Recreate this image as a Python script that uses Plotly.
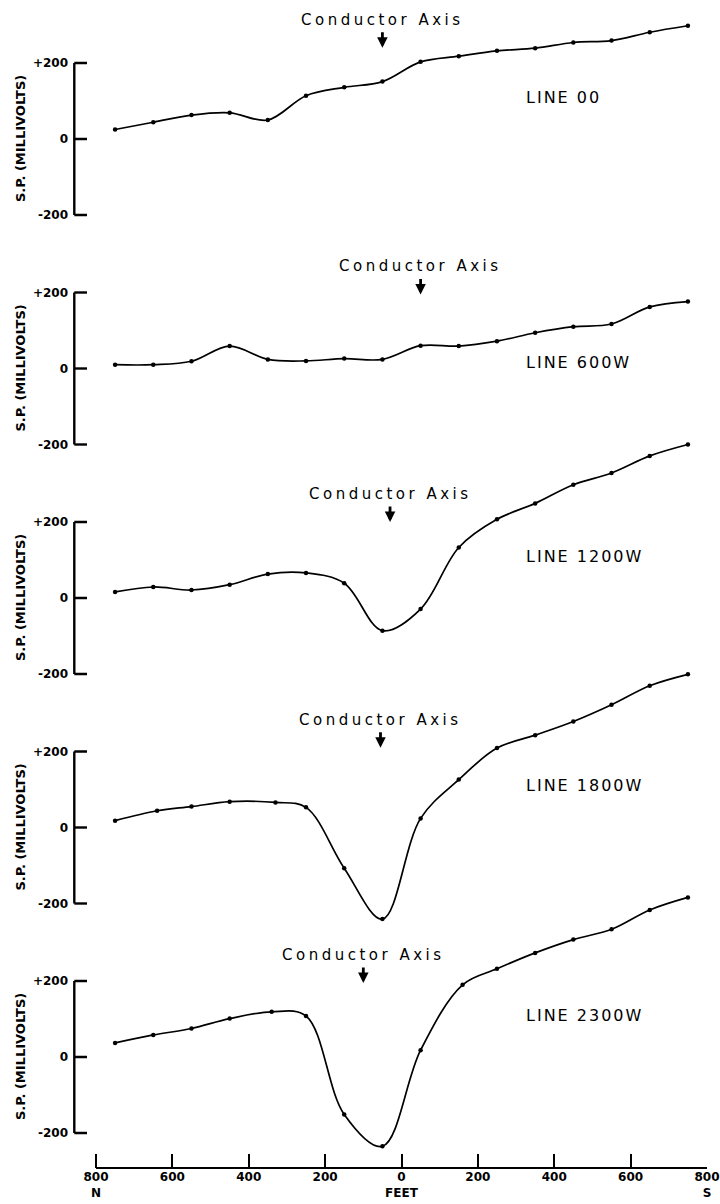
import plotly.graph_objects as go

# ---------------------------------------------------------------------------
# Self-potential survey profiles, five traverse lines crossing the conductor.
# Station positions in feet: negative = north of the baseline, positive = south.
# ---------------------------------------------------------------------------
stations_ft = [-750, -650, -550, -450, -350, -250, -150, -50,
               50, 150, 250, 350, 450, 550, 650, 750]
stations_1800w_ft = [-750, -640, -550, -450, -330, -250, -150, -50,
                     50, 150, 250, 350, 450, 550, 650, 750]
stations_2300w_ft = [-750, -650, -550, -450, -340, -250, -150, -50,
                     50, 160, 250, 350, 450, 550, 650, 750]

# S.P. readings, millivolts
sp_line_00 = [25, 44, 63, 69, 50, 114, 136, 151, 203, 218, 232, 239, 254, 259, 281, 298]
sp_line_600w = [10, 10, 19, 59, 24, 20, 26, 24, 60, 59, 72, 94, 110, 117, 162, 176]
sp_line_1200w = [16, 29, 21, 35, 63, 66, 39, -86, -29, 133, 207, 249, 298, 329, 374, 404]
sp_line_1800w = [18, 44, 55, 68, 66, 53, -107, -241, 24, 126, 209, 243, 279, 323, 373, 403]
sp_line_2300w = [37, 58, 75, 101, 119, 108, -151, -235, 18, 190, 232, 274, 309, 336, 387, 420]

line_names = ["LINE 00", "LINE 600W", "LINE 1200W", "LINE 1800W", "LINE 2300W"]
conductor_axis_ft = [-50, 50, -30, -55, -100]

x_tick_vals = [-800, -600, -400, -200, 0, 200, 400, 600, 800]
x_tick_text = ["800<br>N", "600", "400", "200", "0<br>FEET", "200", "400", "600", "800<br>S"]
y_tick_vals = [-200, 0, 200]
y_tick_text = ["-200", "0", "+200"]

profiles = [
    (stations_ft, sp_line_00),
    (stations_ft, sp_line_600w),
    (stations_ft, sp_line_1200w),
    (stations_1800w_ft, sp_line_1800w),
    (stations_2300w_ft, sp_line_2300w),
]

# ---------------------------------------------------------------------------
# Page geometry (pixels)
# ---------------------------------------------------------------------------
W, H = 720, 1204
AXIS_LEFT = 73          # vertical S.P. axes
X_START = 96            # 800 N tick
X_END = 707             # 800 S tick
BASE = 1168             # horizontal distance axis
ZERO_FIRST = 139        # 0 mV level of the first panel
PITCH = 229.5           # vertical spacing between panels
PX_PER_MV = 0.38
TICK_LEN = 14

paper_w = X_END - AXIS_LEFT
paper_h = BASE

# distance scale: -800 ft sits at X_START, +800 ft at X_END
ft_per_px = 1600 / (X_END - X_START)
x_range = [-800 - (X_START - AXIS_LEFT) * ft_per_px, 800]


def paper_x(px):
    return (px - AXIS_LEFT) / paper_w


def paper_y(px):
    return (paper_h - px) / paper_h


def data_x(px):
    return x_range[0] + (px - AXIS_LEFT) * ft_per_px


FONT = "DejaVu Sans"
INK = "black"

# S.P. axis spine and inward ticks, in distance units of the shared x scale
spine_x = data_x(AXIS_LEFT + 1.3)
tick_end_x = data_x(AXIS_LEFT + TICK_LEN)
axis_x, axis_y = [spine_x, spine_x], [y_tick_vals[0], y_tick_vals[-1]]
for tv in y_tick_vals:
    axis_x += [None, spine_x, tick_end_x]
    axis_y += [None, tv, tv]

fig = go.Figure()
annotations = []
shapes = []
layout_axes = {}

label_level_mv = [110, 15, 110, 110, 110]
arrow_tip_mv = [240, 195, 200, 210, 195]

for i, ((xs, ys), name, cx) in enumerate(zip(profiles, line_names, conductor_axis_ft)):
    n = i + 1
    yname = "y" if n == 1 else f"y{n}"
    ykey = "yaxis" if n == 1 else f"yaxis{n}"

    zero_px = ZERO_FIRST + PITCH * i
    lo = -270
    hi = 360 if i == 0 else 440
    bottom_px = zero_px - lo * PX_PER_MV
    top_px = zero_px - hi * PX_PER_MV

    layout_axes[ykey] = dict(
        domain=[paper_y(bottom_px), paper_y(top_px)],
        range=[lo, hi],
        anchor="x",
        showgrid=False,
        zeroline=False,
        showline=False,
        ticks="",
        tickvals=y_tick_vals,
        ticktext=y_tick_text,
        tickfont=dict(family=FONT, size=12, color=INK, weight="bold"),
        ticklabelstandoff=4,
    )

    # axis spine with its three inward ticks
    fig.add_trace(go.Scatter(
        x=axis_x, y=axis_y,
        xaxis="x", yaxis=yname,
        mode="lines",
        line=dict(color=INK, width=2.4),
        showlegend=False,
        hoverinfo="skip",
    ))

    # S.P. profile
    fig.add_trace(go.Scatter(
        x=xs, y=ys,
        xaxis="x", yaxis=yname,
        mode="lines+markers",
        line=dict(color=INK, width=1.7, shape="spline", smoothing=1.0),
        marker=dict(color=INK, size=4.5),
        showlegend=False,
        hoverinfo="skip",
    ))

    # axis title, centred on the 0 mV level
    annotations.append(dict(
        text="<b>S.P. (MILLIVOLTS)</b>",
        xref="paper", yref=yname,
        x=paper_x(20), y=0,
        xanchor="center", yanchor="middle",
        textangle=-90, showarrow=False,
        font=dict(family=FONT, size=13, color=INK),
    ))

    # line name
    annotations.append(dict(
        text=f'<span style="letter-spacing:2px">{name}</span>',
        xref="x", yref=yname,
        x=320, y=label_level_mv[i],
        xanchor="left", yanchor="middle",
        showarrow=False,
        font=dict(family=FONT, size=16, color=INK),
    ))

    # conductor axis marker
    annotations.append(dict(
        text='<span style="letter-spacing:3.5px">Conductor Axis</span>',
        xref="x", yref=yname,
        x=cx, y=arrow_tip_mv[i],
        showarrow=True, ax=0, ay=-28,
        arrowhead=2, arrowsize=0.75, arrowwidth=2.8,
        arrowcolor=INK, startstandoff=2,
        font=dict(family=FONT, size=15, color=INK),
    ))

# horizontal distance axis line, from 800 N to 800 S
shapes.append(dict(
    type="line", xref="paper", yref="paper",
    x0=paper_x(X_START), x1=paper_x(X_END), y0=0, y1=0,
    line=dict(color=INK, width=2.2),
))

fig.update_layout(
    width=W, height=H,
    margin=dict(l=AXIS_LEFT, r=W - X_END, t=0, b=H - BASE, pad=0),
    paper_bgcolor="white",
    plot_bgcolor="rgba(0,0,0,0)",
    showlegend=False,
    xaxis=dict(
        domain=[0, 1],
        range=x_range,
        anchor="free",
        position=0,
        showline=False,
        showgrid=False,
        zeroline=False,
        ticks="inside",
        ticklen=TICK_LEN,
        tickwidth=2,
        tickcolor=INK,
        tickvals=x_tick_vals,
        ticktext=x_tick_text,
        tickfont=dict(family=FONT, size=12, color=INK, weight="bold"),
    ),
    annotations=annotations,
    shapes=shapes,
    **layout_axes,
)

fig.write_html("out.html", config={"displayModeBar": False})
